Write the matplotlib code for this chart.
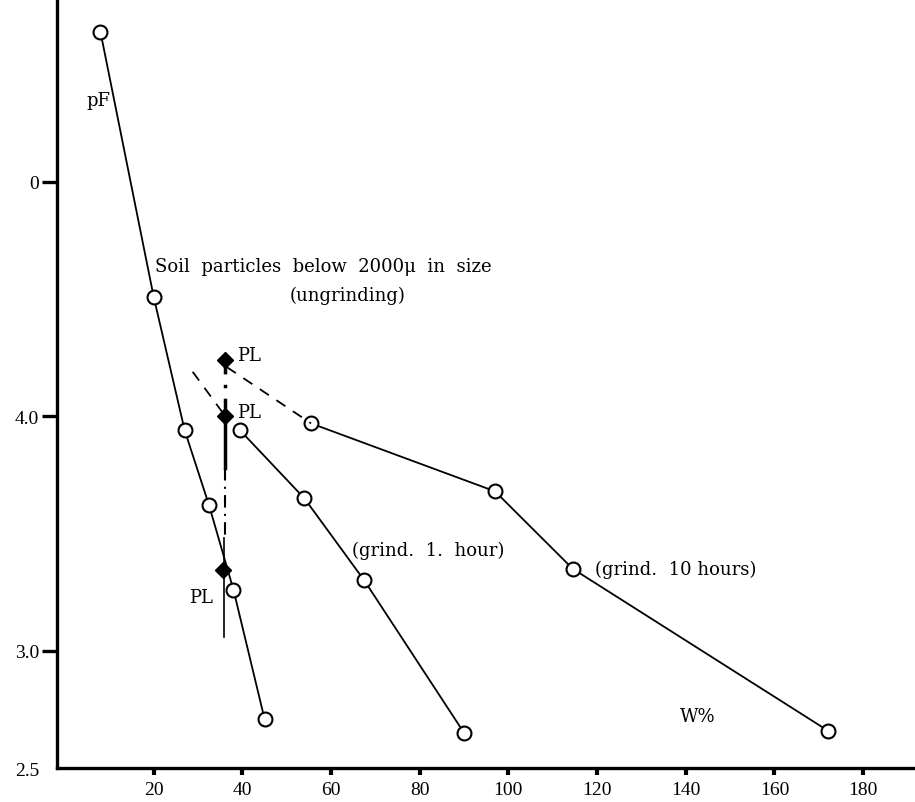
import matplotlib
matplotlib.use('Agg')
import matplotlib.pyplot as plt

plt.rcParams['font.family'] = ['Liberation Serif', 'DejaVu Serif']

# water content W% and pF
w_ungrind = [8, 20, 27, 32.5, 38, 45]
pf_ungrind = [5.64, 4.51, 3.94, 3.62, 3.26, 2.71]

w_1hour = [39.5, 54, 67.5, 90]
pf_1hour = [3.94, 3.65, 3.30, 2.65]

w_10hours = [55.5, 97, 114.5, 172]
pf_10hours = [3.97, 3.68, 3.35, 2.66]

# plastic limit points
w_pl = [36, 36, 35.6]
pf_pl = [4.24, 4.0, 3.345]

# dashed guides near PL
w_dash_10h = [36.5, 55.5]
pf_dash_10h = [4.21, 3.97]
w_dash_1h = [28.8, 35.4]
pf_dash_1h = [4.19, 4.02]

xticks = [20, 40, 60, 80, 100, 120, 140, 160, 180]
yticks = [2.5, 3.0, 4.0, 5.0]
ytick_labels = ['2.5', '3.0', '4.0', '0']

fig = plt.figure(figsize=(9.15, 8.03), dpi=100)
ax = fig.add_axes([0.0623, 0.0423, 0.9377, 0.9577])

line_kw = dict(color='black', lw=1.3, marker='o', markersize=10,
               markerfacecolor='white', markeredgecolor='black', markeredgewidth=1.5)
ax.plot(w_ungrind, pf_ungrind, **line_kw)
ax.plot(w_1hour, pf_1hour, **line_kw)
ax.plot(w_10hours, pf_10hours, **line_kw)

ax.plot(w_dash_10h, pf_dash_10h, color='black', lw=1.3, ls=(0, (6, 5)))
ax.plot(w_dash_1h, pf_dash_1h, color='black', lw=1.3, ls=(0, (6, 5)))

# vertical PL line
ax.plot([36, 36], [4.24, 4.0], color='black', lw=2.5, ls=(0, (4, 3, 1, 3)))
ax.plot([36, 36], [4.0, 3.78], color='black', lw=2.5)
ax.plot([36, 36], [3.78, 3.48], color='black', lw=1.5, ls=(0, (6, 3, 1, 3)))
ax.plot([35.8, 35.8], [3.48, 3.06], color='black', lw=1.2)

ax.plot(w_pl, pf_pl, ls='none', marker='D', markersize=8.5, color='black')

ax.set_xlim(-1.8, 191.7)
ax.set_ylim(2.5, 5.78)

for s in ['top', 'right']:
    ax.spines[s].set_visible(False)
for s in ['left', 'bottom']:
    ax.spines[s].set_linewidth(2.4)

ax.set_xticks(xticks)
ax.set_xticklabels([str(t) for t in xticks])
ax.set_yticks(yticks)
ax.set_yticklabels(ytick_labels)
ax.tick_params(axis='x', length=5, width=3, labelsize=14, pad=4)
ax.tick_params(axis='y', length=11, width=2.4, labelsize=14, pad=2)
ax.yaxis.get_major_ticks()[0].tick1line.set_visible(False)

txt_kw = dict(fontsize=13, family=['DejaVu Serif'], color='black')
ax.text(20.4, 4.64, 'Soil  particles  below  2000μ  in  size', va='center', **txt_kw)
ax.text(63.7, 4.52, '(ungrinding)', ha='center', va='center', **txt_kw)
ax.text(64.8, 3.43, '(grind.  1.  hour)', va='center', **txt_kw)
ax.text(119.6, 3.35, '(grind.  10 hours)', va='center', **txt_kw)
ax.text(38.9, 4.26, 'PL', va='center', **txt_kw)
ax.text(38.9, 4.02, 'PL', va='center', **txt_kw)
ax.text(27.9, 3.23, 'PL', va='center', **txt_kw)
ax.text(7.6, 5.35, 'pF', ha='center', va='center', **txt_kw)
ax.text(138.7, 2.72, 'W%', va='center', **txt_kw)

fig.savefig('out.png', dpi=100)
